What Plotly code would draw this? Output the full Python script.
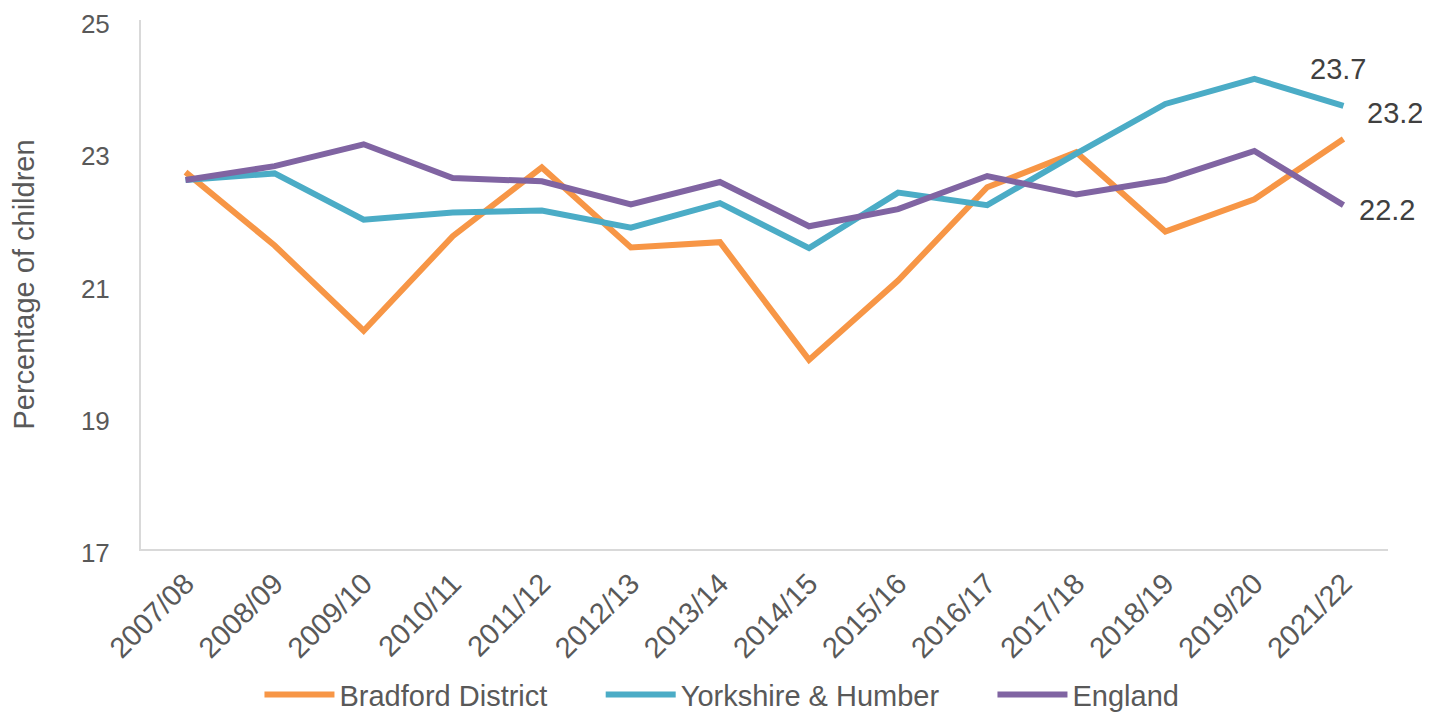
import plotly.graph_objects as go

years = ['2007/08', '2008/09', '2009/10', '2010/11', '2011/12', '2012/13', '2013/14',
         '2014/15', '2015/16', '2016/17', '2017/18', '2018/19', '2019/20', '2021/22']

bradford = [22.70, 21.59, 20.30, 21.73, 22.77, 21.56, 21.64,
            19.86, 21.06, 22.47, 23.00, 21.80, 22.29, 23.2]
yorkshire = [22.58, 22.68, 21.98, 22.09, 22.12, 21.86, 22.23,
             21.55, 22.39, 22.20, 22.98, 23.73, 24.11, 23.7]
england = [22.58, 22.79, 23.12, 22.61, 22.56, 22.21, 22.55,
           21.88, 22.14, 22.64, 22.36, 22.58, 23.02, 22.2]

series = [
    ('Bradford District', bradford, '#F79646'),
    ('Yorkshire & Humber', yorkshire, '#4BACC6'),
    ('England', england, '#8064A2'),
]

fig = go.Figure()
for name, vals, colour in series:
    # trailing non-breaking spaces widen the gap between legend entries
    fig.add_trace(go.Scatter(x=years, y=vals, mode='lines', name=name + '\u00a0' * 6,
                             line=dict(color=colour, width=6)))

# end-of-line value labels
label_offsets = {'Yorkshire & Humber': (-5, 37), 'Bradford District': (52, 26), 'England': (44, -5)}
for name, vals, colour in series:
    dx, dy = label_offsets[name]
    fig.add_annotation(x=years[-1], y=vals[-1], text=f'{vals[-1]:.1f}', showarrow=False,
                       xshift=dx, yshift=dy, font=dict(size=29, color='#404040'))

fig.update_layout(
    width=1422, height=707,
    paper_bgcolor='white', plot_bgcolor='white',
    font=dict(family='Liberation Sans, Arial, sans-serif', size=27, color='#595959'),
    margin=dict(l=133, r=42, t=12, b=166, autoexpand=False),
    showlegend=True,
    legend=dict(orientation='h', x=0.095, xanchor='left', y=-0.227, yanchor='top',
                font=dict(size=29, color='#595959'), itemwidth=70),
)
fig.update_xaxes(type='category', range=[-0.5, 13.5], automargin=False, showgrid=False,
                 showline=True, linecolor='#d9d9d9', linewidth=2, ticklabeloverflow='allow',
                 ticks='', tickangle=-45, ticklabelstandoff=4, tickfont=dict(size=29))
fig.update_yaxes(range=[17, 25], tickvals=[17, 19, 21, 23, 25], automargin=False,
                 showgrid=False, zeroline=False, ticklabeloverflow='allow', ticklabelshift=4,
                 showline=True, linecolor='#d9d9d9', linewidth=2, ticks='', ticklabelstandoff=24,
                 tickfont=dict(size=26),
                 title=dict(text='Percentage of children', standoff=38, font=dict(size=29)))

fig.write_html('out.html')
